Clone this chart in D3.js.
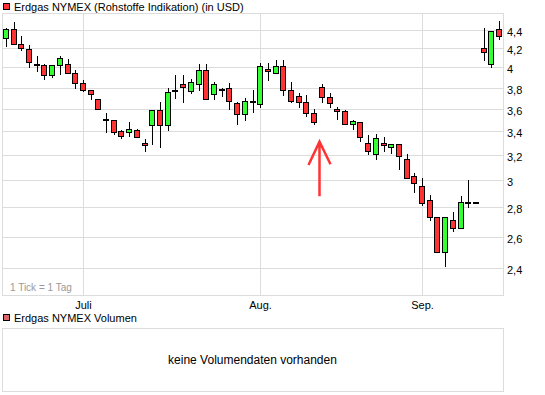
<!doctype html>
<html lang="de">
<head>
<meta charset="utf-8">
<title>Erdgas NYMEX</title>
<script src="https://d3js.org/d3.v7.min.js"></script>
<style>
    body { margin: 0; background: #fff; }
    svg { display: block; font-family: "Liberation Sans", Arial, sans-serif; }
</style>
</head>
<body>
<script>
    // daily candles, one per trading day starting 17 June 2009
    const firstDay = "2009-06-17"
    const open  = [4.31, 4.41, 4.25, 4.19, 4.04, 4.02, 3.92, 4.02, 4.04, 3.94, 3.84, 3.78, 3.69, 3.51, 3.50, 3.40, 3.39, 3.41, 3.30, 3.45, 3.59, 3.45, 3.77, 3.83, 3.77, 3.83, 3.97, 3.74, 3.79, 3.80, 3.65, 3.55, 3.67, 3.64, 3.98, 3.94, 4.01, 3.78, 3.72, 3.66, 3.56, 3.81, 3.71, 3.60, 3.58, 3.46, 3.48, 3.30, 3.21, 3.30, 3.27, 3.29, 3.17, 3.03, 2.96, 2.85, 2.73, 2.50, 2.71, 2.66, 2.84, 2.84, 4.20, 4.04, 4.41]
    const high  = [4.42, 4.49, 4.33, 4.24, 4.12, 4.03, 4.02, 4.12, 4.09, 3.97, 3.87, 3.78, 3.69, 3.56, 3.50, 3.41, 3.48, 3.42, 3.33, 3.59, 3.66, 3.80, 3.92, 3.92, 3.88, 4.03, 4.03, 3.85, 3.80, 3.84, 3.66, 3.70, 3.78, 4.05, 4.05, 4.08, 4.08, 3.85, 3.75, 3.73, 3.60, 3.83, 3.75, 3.62, 3.59, 3.50, 3.48, 3.37, 3.38, 3.35, 3.29, 3.29, 3.21, 3.06, 3.02, 2.89, 2.73, 2.73, 2.77, 2.88, 3.00, 2.84, 4.42, 4.39, 4.50]
    const low   = [4.22, 4.25, 4.18, 4.00, 3.96, 3.88, 3.90, 3.93, 3.94, 3.80, 3.77, 3.69, 3.60, 3.39, 3.38, 3.34, 3.36, 3.35, 3.23, 3.29, 3.27, 3.41, 3.70, 3.66, 3.75, 3.78, 3.69, 3.69, 3.72, 3.60, 3.46, 3.50, 3.57, 3.62, 3.87, 3.94, 3.73, 3.66, 3.62, 3.53, 3.46, 3.66, 3.62, 3.51, 3.46, 3.42, 3.32, 3.21, 3.17, 3.23, 3.22, 3.09, 3.02, 2.91, 2.82, 2.71, 2.50, 2.41, 2.64, 2.66, 2.80, 2.84, 4.08, 4.00, 4.30]
    const close = [4.41, 4.25, 4.20, 4.06, 4.03, 3.92, 4.02, 4.10, 3.94, 3.84, 3.78, 3.74, 3.60, 3.50, 3.39, 3.36, 3.42, 3.35, 3.28, 3.59, 3.45, 3.76, 3.78, 3.81, 3.85, 3.97, 3.69, 3.83, 3.78, 3.67, 3.55, 3.67, 3.66, 4.01, 3.96, 4.01, 3.78, 3.67, 3.66, 3.56, 3.48, 3.71, 3.65, 3.58, 3.46, 3.49, 3.35, 3.23, 3.34, 3.28, 3.29, 3.19, 3.02, 2.98, 2.83, 2.73, 2.50, 2.73, 2.66, 2.84, 2.84, 2.84, 4.16, 4.39, 4.33]

    const yTicks = [2.4, 2.6, 2.8, 3.0, 3.2, 3.4, 3.6, 3.8, 4.0, 4.2, 4.4]
    const monthNames = ["Jan.", "Feb.", "März", "April", "Mai", "Juni", "Juli", "Aug.", "Sep.", "Okt.", "Nov.", "Dez."]

    const width = 545
    const height = 395
    const plot = { left: 2, right: 503, top: 13, bottom: 295 }

    // trading days (weekdays)
    let days = []
    let d = d3.timeParse("%Y-%m-%d")(firstDay)
    while (days.length < open.length) {
        if (d.getDay() !== 0 && d.getDay() !== 6) days.push(d)
        d = d3.timeDay.offset(d, 1)
    }
    let candles = days.map((day, i) => ({ i, day, o: open[i], h: high[i], l: low[i], c: close[i] }))

    const de = d3.formatLocale({ decimal: ",", thousands: ".", grouping: [3], currency: ["", " €"] })
    const fmt = de.format("~g")

    const x = d3.scalePoint()
        .domain(d3.range(candles.length))
        .range([plot.left, plot.right])
        .padding(0.5)

    const y = d3.scaleLog()
        .domain([2.24, 4.595])
        .range([plot.bottom, plot.top])

    const svg = d3.select("body").append("svg")
        .attr("width", width)
        .attr("height", height)

    const red = "#ff3333"
    const green = "#33ff33"
    const grid = "#dcdcdc"

    // legend
    svg.append("rect")
        .attr("x", 3.5).attr("y", 3.5).attr("width", 6).attr("height", 6)
        .attr("fill", red).attr("stroke", "#000")
        .attr("shape-rendering", "crispEdges")
    svg.append("text")
        .attr("x", 14).attr("y", 11)
        .attr("font-size", 11)
        .text("Erdgas NYMEX (Rohstoffe Indikation) (in USD)")

    // horizontal grid + labels
    svg.append("g")
        .selectAll("line")
        .data(yTicks)
        .join("line")
        .attr("x1", plot.left).attr("x2", plot.right)
        .attr("y1", v => Math.round(y(v)) + 0.5)
        .attr("y2", v => Math.round(y(v)) + 0.5)
        .attr("stroke", grid)

    svg.append("g")
        .attr("font-size", 11)
        .selectAll("text")
        .data(yTicks)
        .join("text")
        .attr("x", plot.right + 4)
        .attr("y", v => Math.round(y(v)) + 6)
        .text(v => fmt(v))

    // month gridlines and labels
    let monthStarts = candles.filter((c, i) => i > 0 && c.day.getMonth() !== candles[i - 1].day.getMonth())

    svg.append("g")
        .selectAll("line")
        .data(monthStarts)
        .join("line")
        .attr("x1", c => Math.round(x(c.i)) + 0.5)
        .attr("x2", c => Math.round(x(c.i)) + 0.5)
        .attr("y1", plot.top).attr("y2", plot.bottom)
        .attr("stroke", grid)

    svg.append("g")
        .attr("font-size", 11)
        .attr("text-anchor", "middle")
        .selectAll("text")
        .data(monthStarts)
        .join("text")
        .attr("x", c => Math.round(x(c.i)) + 0.5)
        .attr("y", plot.bottom + 14)
        .text(c => monthNames[c.day.getMonth()])

    // plot frame
    svg.append("rect")
        .attr("x", plot.left + 0.5).attr("y", plot.top + 0.5)
        .attr("width", plot.right - plot.left).attr("height", plot.bottom - plot.top)
        .attr("fill", "none").attr("stroke", grid)

    svg.append("text")
        .attr("x", 10).attr("y", 291)
        .attr("font-size", 10)
        .attr("fill", "#999")
        .text("1 Tick = 1 Tag")

    // candles
    const g = svg.append("g").attr("shape-rendering", "crispEdges")

    g.selectAll("line")
        .data(candles)
        .join("line")
        .attr("x1", c => Math.round(x(c.i)) + 0.5)
        .attr("x2", c => Math.round(x(c.i)) + 0.5)
        .attr("y1", c => Math.round(y(c.h)))
        .attr("y2", c => Math.round(y(c.l)) + 1)
        .attr("stroke", "#000")

    g.selectAll("rect")
        .data(candles)
        .join("rect")
        .attr("x", c => Math.round(x(c.i)) - 2.5)
        .attr("width", 5)
        .attr("y", c => Math.round(y(Math.max(c.o, c.c))) + 0.5)
        .attr("height", c => Math.max(1, Math.round(y(Math.min(c.o, c.c))) - Math.round(y(Math.max(c.o, c.c)))))
        .attr("fill", c => c.c > c.o ? green : red)
        .attr("stroke", "#000")

    // red arrow annotation under the candles of mid August
    const ax = Math.round(x(40)) + 5.5
    svg.append("path")
        .attr("d", `M${ax},${y(2.88)} L${ax},${y(3.31)} M${ax - 11},${y(3.12)} L${ax},${y(3.31)} L${ax + 11},${y(3.125)}`)
        .attr("fill", "none")
        .attr("stroke", red)
        .attr("stroke-width", 2.5)

    // volume panel
    svg.append("rect")
        .attr("x", 3.5).attr("y", 314.5).attr("width", 6).attr("height", 6)
        .attr("fill", "#dd6666").attr("stroke", "#000")
        .attr("shape-rendering", "crispEdges")
    svg.append("text")
        .attr("x", 14).attr("y", 322)
        .attr("font-size", 11)
        .text("Erdgas NYMEX Volumen")

    svg.append("rect")
        .attr("x", plot.left + 0.5).attr("y", 328.5)
        .attr("width", plot.right - plot.left).attr("height", 63)
        .attr("fill", "none").attr("stroke", grid)

    svg.append("text")
        .attr("x", (plot.left + plot.right) / 2).attr("y", 364)
        .attr("text-anchor", "middle")
        .attr("font-size", 12)
        .text("keine Volumendaten vorhanden")
</script>
</body>
</html>
